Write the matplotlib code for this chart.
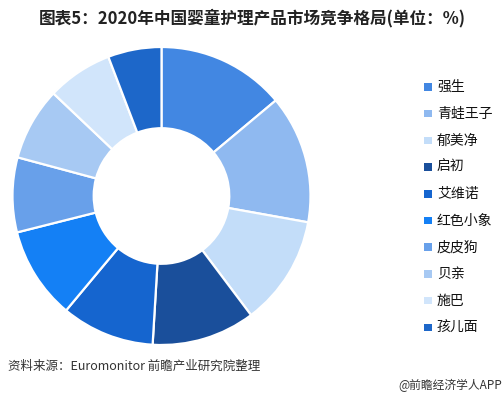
import matplotlib
matplotlib.use("Agg")
import matplotlib.pyplot as plt
from matplotlib.patches import Rectangle

plt.rcParams['font.family'] = ['Noto Sans CJK SC', 'DejaVu Sans']

brands = ["强生", "青蛙王子", "郁美净", "启初", "艾维诺", "红色小象", "皮皮狗", "贝亲", "施巴", "孩儿面"]
shares = [13.9, 13.9, 11.9, 11.2, 10.1, 10.0, 8.1, 7.9, 7.1, 5.8]
colors = ["#4287E2", "#8FB9F0", "#C3DDF9", "#1A4F9B", "#1565CF",
          "#1480F5", "#68A0EA", "#A7C9F3", "#D1E5FB", "#1D67C9"]

title = "图表5：2020年中国婴童护理产品市场竞争格局(单位：%)"
source = "资料来源：Euromonitor 前瞻产业研究院整理"
credit = "@前瞻经济学人APP"

W, H = 504, 399
fig = plt.figure(figsize=(W / 100, H / 100), dpi=100)
fig.patch.set_facecolor("white")

# donut axes: centre (161.5, 196) px from top, radius 149 px
cx, cy, r = 161.5, 196, 149
ax = fig.add_axes([(cx - r) / W, (H - cy - r) / H, 2 * r / W, 2 * r / H])
ax.pie(shares, colors=colors, startangle=90, counterclock=False,
       radius=1.0, wedgeprops=dict(width=0.545, edgecolor="white", linewidth=1.6))
ax.set_xlim(-1, 1)
ax.set_ylim(-1, 1)
ax.set_aspect("equal")
ax.axis("off")

# title
fig.text(252 / W, 1 - 18 / H, title, ha="center", va="center",
         fontsize=12, fontweight="bold", color="#222222")

# legend
lx, ly0, dy = 428, 87, 26.7
sq = 7.5
for i, (name, col) in enumerate(zip(brands, colors)):
    y = ly0 + i * dy
    fig.add_artist(Rectangle(((lx - sq / 2) / W, 1 - (y + sq / 2) / H), sq / W, sq / H,
                             transform=fig.transFigure, facecolor=col, edgecolor="none"))
    fig.text((lx + 9) / W, 1 - y / H, name, ha="left", va="center",
             fontsize=10, color="#111111")

# footer
fig.text(8 / W, 1 - 366 / H, source, ha="left", va="center", fontsize=9, color="#333333")
fig.text(502 / W, 1 - 385 / H, credit, ha="right", va="center", fontsize=8.5, color="#333333")

fig.savefig("out.png", dpi=100, facecolor="white")
